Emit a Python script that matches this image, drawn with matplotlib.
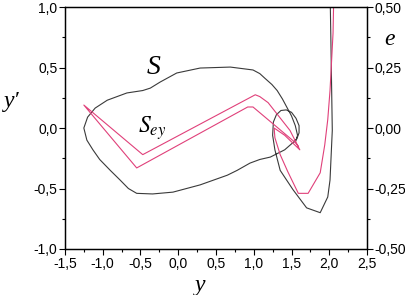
import numpy as np
import matplotlib.pyplot as plt
from matplotlib.ticker import MultipleLocator, FuncFormatter

# S curve (black), y and y'
s_y = [2.01, 2.02, 2.04, 2.01, 1.98, 1.88, 1.70, 1.52, 1.35, 1.28, 1.25, 1.26, 1.30,
       1.36, 1.43, 1.50, 1.56, 1.60, 1.60, 1.57, 1.52, 1.41, 1.22, 1.08, 0.95, 0.78, 0.65,
       0.29, -0.07, -0.34, -0.55, -0.66, -0.77, -0.90, -1.04, -1.13, -1.21, -1.25, -1.20,
       -1.10, -0.94, -0.68, -0.47, -0.37, -0.24, -0.02, 0.29, 0.69, 0.99, 1.08, 1.15, 1.24,
       1.31, 1.38, 1.44, 1.50, 1.55, 1.58, 1.55]
s_yp = [1.15, 0.78, -0.02, -0.43, -0.57, -0.70, -0.66, -0.51, -0.35, -0.18, -0.06, 0.05, 0.11,
        0.145, 0.15, 0.13, 0.08, 0.02, -0.04, -0.09, -0.12, -0.18, -0.24, -0.26, -0.29, -0.35,
        -0.39, -0.47, -0.53, -0.545, -0.54, -0.50, -0.43, -0.35, -0.26, -0.18, -0.10, 0.0,
        0.09, 0.165, 0.23, 0.29, 0.31, 0.33, 0.38, 0.455, 0.496, 0.504, 0.48, 0.45, 0.41,
        0.36, 0.31, 0.24, 0.17, 0.10, 0.02, -0.06, -0.12]

# S_ey curve (pink)
sey_y = [2.06, 2.05, 2.01, 1.98, 1.94, 1.88, 1.72, 1.59, 1.45, 1.35, 1.28, 1.27,
         1.41, 1.61, 1.48, 1.19, 1.08, 1.02, -0.47, -1.25, -0.55, 0.92, 0.99, 1.55, 1.59]
sey_yp = [1.10, 0.785, 0.31, 0.07, -0.14, -0.37, -0.54, -0.54, -0.36, -0.22, -0.08, 0.0,
          -0.06, -0.18, -0.02, 0.21, 0.26, 0.275, -0.22, 0.19, -0.33, 0.174, 0.174, -0.12, -0.15]


def comma(fmt):
    return FuncFormatter(lambda v, p: (fmt % v).replace('.', ','))


fig = plt.figure(figsize=(4.06, 2.95), dpi=100)
ax = fig.add_axes([0.160, 0.156, 0.744, 0.820])
ax.plot(s_y, s_yp, color='#3a3a3a', lw=0.8)
ax.plot(sey_y, sey_yp, color='#e0407a', lw=0.8)
ax.set_xlim(-1.5, 2.5)
ax.set_ylim(-1.0, 1.0)
ax.xaxis.set_major_locator(MultipleLocator(0.5))
ax.xaxis.set_minor_locator(MultipleLocator(0.25))
ax.yaxis.set_major_locator(MultipleLocator(0.5))
ax.yaxis.set_minor_locator(MultipleLocator(0.25))
ax.xaxis.set_major_formatter(comma('%.1f'))
ax.yaxis.set_major_formatter(comma('%.1f'))

ax2 = ax.twinx()
ax2.set_ylim(-0.5, 0.5)
ax2.yaxis.set_major_locator(MultipleLocator(0.25))
ax2.yaxis.set_minor_locator(MultipleLocator(0.125))
ax2.yaxis.set_major_formatter(comma('%.2f'))

for a in (ax, ax2):
    a.tick_params(which='major', direction='out', length=4, width=0.8,
                  labelsize=10, pad=1.5)
    a.tick_params(which='minor', direction='out', length=2.5, width=0.8)
    for sp in a.spines.values():
        sp.set_linewidth(0.9)
    for lab in a.get_xticklabels() + a.get_yticklabels():
        lab.set_family(['Liberation Sans', 'DejaVu Sans'])

serif = ['Liberation Serif', 'DejaVu Serif']
fig.text(0.493, 0.015, 'y', fontsize=17, style='italic', family=serif, ha='center')
fig.text(0.03, 0.655, 'y\u2032', fontsize=17, style='italic', family=serif, ha='center', va='center')
fig.text(0.96, 0.865, 'e', fontsize=17, style='italic', family=serif, ha='center', va='center')
ax.text(-0.33, 0.5, 'S', fontsize=20, style='italic', family=serif, ha='center', va='center')
ax.text(-0.35, 0.0, '$S_{ey}$', fontsize=17, ha='center', va='center',
        math_fontfamily='stix')

fig.savefig('out.png', dpi=100)
